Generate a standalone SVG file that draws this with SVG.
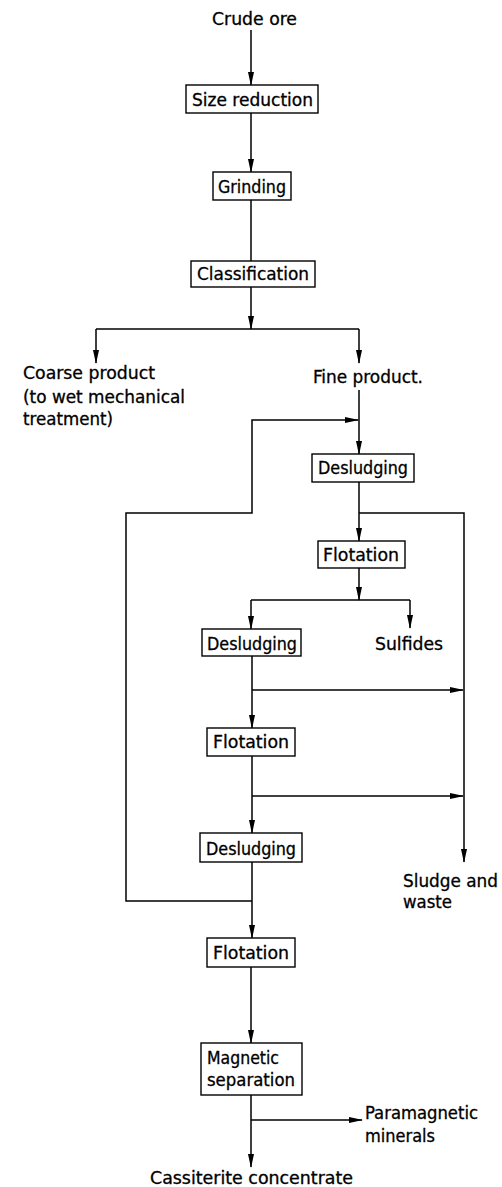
<svg xmlns="http://www.w3.org/2000/svg" width="502" height="1187" viewBox="0 0 502 1187">
<style>
.box{fill:#fff;stroke:#000;stroke-width:1.4}
.ln{fill:none;stroke:#000;stroke-width:1.5}
.ar{marker-end:url(#ah)}
text{font-family:"DejaVu Sans Condensed","Liberation Sans Narrow",sans-serif;font-size:18px;fill:#000;stroke:#000;stroke-width:0.3}
.c{text-anchor:middle}
</style>
<defs>
<marker id="ah" markerUnits="userSpaceOnUse" markerWidth="14" markerHeight="6" viewBox="0 -3 14 6" refX="13" refY="0" orient="auto">
<path d="M0,-3 L14,0 L0,3 Z" fill="#000"/>
</marker>
</defs>
<rect width="502" height="1187" fill="#fff"/>
<g id="connectors">
<path class="ln ar" d="M251,30 V85"/>
<path class="ln ar" d="M251,113 V172"/>
<path class="ln" d="M251,200 V261"/>
<path class="ln ar" d="M251,287 V329"/>
<path class="ln" d="M96,329 H359"/>
<path class="ln ar" d="M96,329 V363"/>
<path class="ln ar" d="M359,329 V363"/>
<path class="ln ar" d="M359,390 V454"/>
<path class="ln ar" d="M252,901 H126 V513 H252 V420 H358"/>
<path class="ln ar" d="M359,482 V541"/>
<path class="ln ar" d="M359,513 H464 V862"/>
<path class="ln ar" d="M359,568 V600"/>
<path class="ln" d="M251,600 H410"/>
<path class="ln ar" d="M251,600 V629"/>
<path class="ln ar" d="M410,600 V628"/>
<path class="ln ar" d="M252,656 V728"/>
<path class="ln ar" d="M252,690 H463"/>
<path class="ln ar" d="M252,756 V833"/>
<path class="ln ar" d="M252,796 H463"/>
<path class="ln ar" d="M252,862 V938"/>
<path class="ln ar" d="M251,967 V1043"/>
<path class="ln ar" d="M251,1095 V1167"/>
<path class="ln ar" d="M251,1120 H362"/>
</g>
<g id="crude-ore"><text class="c" x="254.5" y="25" textLength="85" lengthAdjust="spacingAndGlyphs">Crude ore</text></g>
<g id="size-reduction"><rect class="box" x="186" y="85" width="132" height="28"/><text class="c" x="252.5" y="106" textLength="121" lengthAdjust="spacingAndGlyphs">Size reduction</text></g>
<g id="grinding"><rect class="box" x="213" y="172" width="78" height="28"/><text class="c" x="252" y="193" textLength="68" lengthAdjust="spacingAndGlyphs">Grinding</text></g>
<g id="classification"><rect class="box" x="191" y="261" width="124" height="26"/><text class="c" x="253" y="280" textLength="112" lengthAdjust="spacingAndGlyphs">Classification</text></g>
<g id="coarse-product">
<text x="23" y="379" textLength="132" lengthAdjust="spacingAndGlyphs">Coarse product</text>
<text x="23" y="403" textLength="162" lengthAdjust="spacingAndGlyphs">(to wet mechanical</text>
<text x="23" y="425" textLength="90" lengthAdjust="spacingAndGlyphs">treatment)</text>
</g>
<g id="fine-product"><text x="313" y="383" textLength="110" lengthAdjust="spacingAndGlyphs">Fine product.</text></g>
<g id="desludging-1"><rect class="box" x="312" y="454" width="102" height="28"/><text class="c" x="363" y="474" textLength="90" lengthAdjust="spacingAndGlyphs">Desludging</text></g>
<g id="flotation-1"><rect class="box" x="318" y="541" width="87" height="27"/><text class="c" x="361" y="561" textLength="76" lengthAdjust="spacingAndGlyphs">Flotation</text></g>
<g id="desludging-2"><rect class="box" x="202" y="629" width="99" height="27"/><text class="c" x="252" y="650" textLength="90" lengthAdjust="spacingAndGlyphs">Desludging</text></g>
<g id="sulfides"><text class="c" x="409" y="650" textLength="68" lengthAdjust="spacingAndGlyphs">Sulfides</text></g>
<g id="flotation-2"><rect class="box" x="207" y="728" width="88" height="28"/><text class="c" x="251" y="748" textLength="76" lengthAdjust="spacingAndGlyphs">Flotation</text></g>
<g id="desludging-3"><rect class="box" x="200" y="833" width="102" height="29"/><text class="c" x="251" y="855" textLength="90" lengthAdjust="spacingAndGlyphs">Desludging</text></g>
<g id="sludge-waste">
<text x="403" y="887" textLength="95" lengthAdjust="spacingAndGlyphs">Sludge and</text>
<text x="403" y="908" textLength="49" lengthAdjust="spacingAndGlyphs">waste</text>
</g>
<g id="flotation-3"><rect class="box" x="207" y="938" width="88" height="29"/><text class="c" x="251" y="959" textLength="76" lengthAdjust="spacingAndGlyphs">Flotation</text></g>
<g id="magnetic-separation"><rect class="box" x="201" y="1043" width="101" height="52"/>
<text x="207" y="1064" textLength="72" lengthAdjust="spacingAndGlyphs">Magnetic</text>
<text x="207" y="1086" textLength="88" lengthAdjust="spacingAndGlyphs">separation</text>
</g>
<g id="paramagnetic">
<text x="365" y="1119" textLength="113" lengthAdjust="spacingAndGlyphs">Paramagnetic</text>
<text x="365" y="1142" textLength="70" lengthAdjust="spacingAndGlyphs">minerals</text>
</g>
<g id="cassiterite"><text x="150" y="1184" textLength="203" lengthAdjust="spacingAndGlyphs">Cassiterite concentrate</text></g>
</svg>
